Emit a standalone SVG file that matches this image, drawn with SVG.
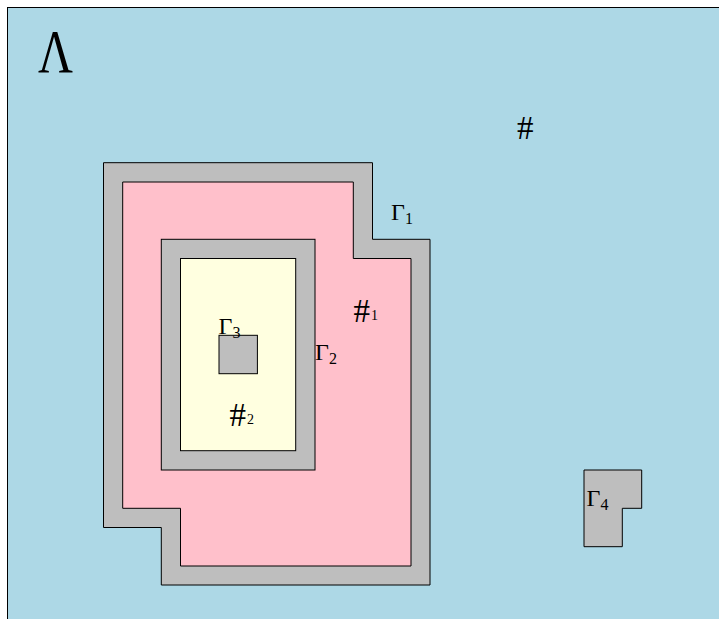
<svg xmlns="http://www.w3.org/2000/svg" width="719" height="619" viewBox="0 0 719 619">
<style>
.bd{stroke:#000;stroke-width:1;stroke-linejoin:miter}
.g{fill:#BEBEBE}
.p{fill:#FFC0CB}
.y{fill:#FFFFE0}
.t{font-family:"Liberation Serif","DejaVu Serif",serif;fill:#000}
.lbl{font-size:24px}
.sub{font-size:16px}
.hs{font-size:33px}
.hsub{font-size:14px}
</style>
<g id="domain">
<rect x="7.5" y="7.5" width="720" height="620" fill="#ADD8E6" class="bd"/>
<text class="t" x="38" y="72" font-size="61" textLength="35" lengthAdjust="spacingAndGlyphs">Λ</text>
<text class="t hs" x="517" y="139">#</text>
</g>
<g id="gamma1">
<path class="bd g" d="M103.5,162.7 H372.5 V239.3 H430 V585 H161.3 V527.5 H103.5 Z"/>
<text class="t lbl" x="391" y="220">Γ<tspan class="sub" dy="4">1</tspan></text>
</g>
<g id="region1">
<path class="bd p" d="M122.7,182 H353.3 V258.5 H411 V566 H180.5 V508.3 H122.7 Z"/>
<text class="t hs" x="353.5" y="322">#<tspan class="hsub" dx="1" dy="-2.5">1</tspan></text>
</g>
<g id="gamma2">
<rect class="bd g" x="161.3" y="239.3" width="153.7" height="230.7"/>
<text class="t lbl" x="315" y="360">Γ<tspan class="sub" dy="4">2</tspan></text>
</g>
<g id="region2">
<rect class="bd y" x="180.5" y="258.5" width="115.2" height="192.2"/>
<text class="t hs" x="229.5" y="426">#<tspan class="hsub" dx="1" dy="-2.5">2</tspan></text>
</g>
<g id="gamma3">
<rect class="bd g" x="219" y="335.3" width="38.4" height="38.4"/>
<text class="t lbl" x="218.5" y="333.5">Γ<tspan class="sub" dy="4">3</tspan></text>
</g>
<g id="gamma4">
<path class="bd g" d="M584,470 H641.7 V508.3 H622.3 V546.7 H584 Z"/>
<text class="t lbl" x="586.5" y="506">Γ<tspan class="sub" dy="4">4</tspan></text>
</g>
<g id="connectors"></g>
</svg>
